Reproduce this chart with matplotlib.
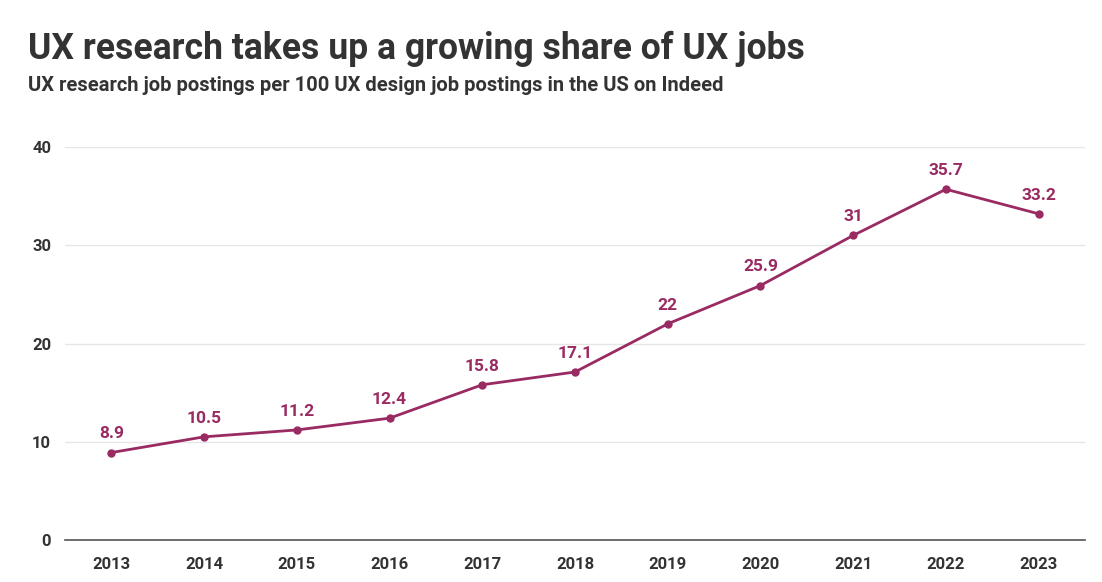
import matplotlib.pyplot as plt

years = ["2013", "2014", "2015", "2016", "2017", "2018", "2019", "2020", "2021", "2022", "2023"]
values = [8.9, 10.5, 11.2, 12.4, 15.8, 17.1, 22, 25.9, 31, 35.7, 33.2]
labels = ["8.9", "10.5", "11.2", "12.4", "15.8", "17.1", "22", "25.9", "31", "35.7", "33.2"]
yticks = [0, 10, 20, 30, 40]

plt.rcParams['font.family'] = ['Roboto', 'DejaVu Sans']
line_color = "#9a2a62"
text_color = "#333333"

fig = plt.figure(figsize=(11.02, 5.82), dpi=100)
ax = fig.add_axes([65/1102, 42/582, 1020/1102, 393/582])

x = list(range(len(years)))
ax.plot(x, values, color=line_color, lw=2, marker="o", ms=5, zorder=3, clip_on=False)
for xi, v, lab in zip(x, values, labels):
    ax.annotate(lab, (xi, v), xytext=(0, 8), textcoords="offset points",
                ha="center", va="bottom", color=line_color,
                fontsize=12.5, fontweight="bold")

ax.set_xlim(-0.5, len(years) - 0.5)
ax.set_ylim(0, 40)
ax.set_yticks(yticks)
ax.set_xticks(x)
ax.set_xticklabels(years)
ax.grid(axis="y", color="#e6e6e6", lw=1)
ax.set_axisbelow(True)
for s in ["top", "right", "left"]:
    ax.spines[s].set_visible(False)
ax.spines["bottom"].set_color("#555555")
ax.spines["bottom"].set_linewidth(1.2)
ax.tick_params(axis="both", length=0, labelsize=12, labelcolor=text_color)
ax.tick_params(axis="x", pad=12)
ax.tick_params(axis="y", pad=10)
for t in ax.get_xticklabels() + ax.get_yticklabels():
    t.set_fontweight("bold")

fig.text(28/1102, 1 - 59/582, "UX research takes up a growing share of UX jobs",
         fontsize=25.6, fontweight="bold", color=text_color, ha="left", va="baseline")
fig.text(28/1102, 1 - 91/582, "UX research job postings per 100 UX design job postings in the US on Indeed",
         fontsize=14.5, fontweight="bold", color=text_color, ha="left", va="baseline")

fig.savefig("out.png", dpi=100)
